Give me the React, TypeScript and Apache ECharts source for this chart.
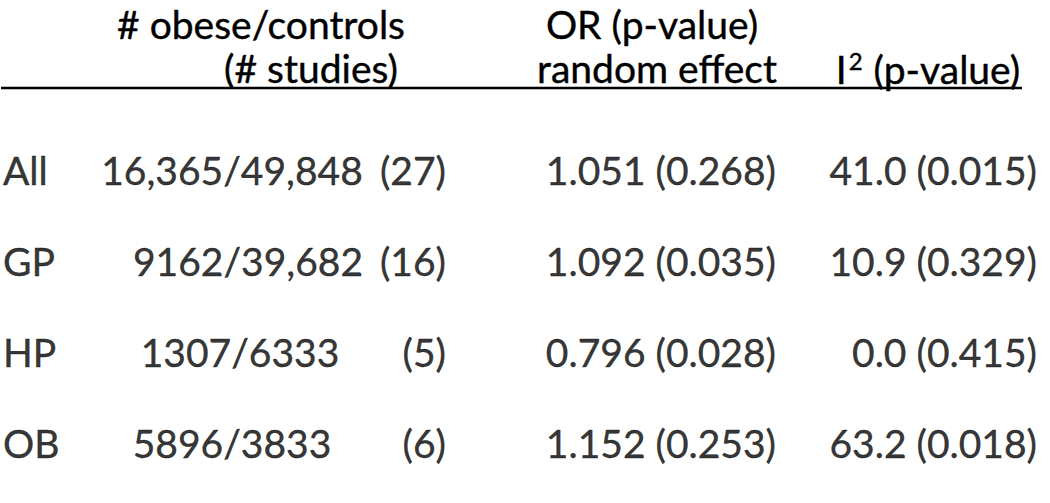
import React, { useEffect, useRef } from "react";
import * as echarts from "echarts";

// ---- data ----
const groups = ["All", "GP", "HP", "OB"];
const obese = [16365, 9162, 1307, 5896];
const controls = [49848, 39682, 6333, 3833];
const studies = [27, 16, 5, 6];
const orValue = [1.051, 1.092, 0.796, 1.152];
const orP = [0.268, 0.035, 0.028, 0.253];
const i2Value = [41.0, 10.9, 0.0, 63.2];
const i2P = [0.015, 0.329, 0.415, 0.018];
const headerLine1 = ["# obese/controls", "OR (p-value)"];
const headerLine2 = ["(# studies)", "random effect"];
const i2Header = ["I", "2", " (p-value)"];

// ---- layout ----
const FONT = "Lato";
const FS = 39;
const labelX = 3;
const countCenterX = [232, 248, 240, 232];
const studiesRightX = 446;
const orRightX = 776;
const i2RightX = 1037;

const fmtCount = (n: number) => (n >= 10000 ? n.toLocaleString("en-US") : String(n));

export default function App() {
  const ref = useRef<HTMLDivElement>(null);
  useEffect(() => {
    if (!ref.current) return;
    const chart = echarts.init(ref.current, undefined, { renderer: "svg" });
    const col = (
      name: string,
      xs: number[],
      align: "left" | "right" | "center",
      fmt: (i: number) => string
    ) => ({
      type: "scatter",
      name,
      symbolSize: 0,
      silent: true,
      data: groups.map((g, i) => [xs[i], g]),
      label: {
        show: true,
        position: "inside",
        align,
        verticalAlign: "middle",
        color: "#000",
        fontFamily: FONT,
        fontSize: FS,
        textBorderColor: "#000",
        textBorderWidth: 0.4,
        formatter: (p: any) => fmt(p.dataIndex),
      },
      emphasis: { disabled: true },
    });
    const same = (x: number) => groups.map(() => x);
    const txt = { fontFamily: FONT, fontSize: FS, fill: "#000", stroke: "#000", lineWidth: 0.4 };
    const hdr = (text: string, x: number, y: number) => ({
      type: "text",
      x,
      y,
      silent: true,
      style: { text, ...txt, align: "center", verticalAlign: "middle" },
    });
    chart.setOption({
      animation: false,
      grid: { left: 0, right: 0, top: 124, bottom: 15 },
      xAxis: { type: "value", min: 0, max: 1050, show: false },
      yAxis: { type: "category", data: groups, inverse: true, show: false },
      series: [
        col("label", same(labelX), "left", (i) => groups[i]),
        col("count", countCenterX, "center", (i) => `${fmtCount(obese[i])}/${fmtCount(controls[i])}`),
        col("studies", same(studiesRightX), "right", (i) => `(${studies[i]})`),
        col("or", same(orRightX), "right", (i) => `${orValue[i].toFixed(3)} (${orP[i].toFixed(3)})`),
        col("i2", same(i2RightX), "right", (i) => `${i2Value[i].toFixed(1)} (${i2P[i].toFixed(3)})`),
      ],
      graphic: [
        hdr(headerLine1[0], 261, 24),
        hdr(headerLine1[1], 652, 24),
        hdr(headerLine2[0], 311, 68),
        hdr(headerLine2[1], 657, 68),
        {
          type: "text",
          x: 928,
          y: 68,
          silent: true,
          style: {
            text: `{m|${i2Header[0]}}{s|${i2Header[1]}}{m|${i2Header[2]}}`,
            ...txt,
            align: "center",
            verticalAlign: "middle",
            rich: {
              m: { fontFamily: FONT, fontSize: FS, lineHeight: 40, verticalAlign: "bottom" },
              s: { fontFamily: FONT, fontSize: 24, lineHeight: 40, verticalAlign: "top", padding: [0, 1, 0, 2] },
            },
          },
        },
        { type: "line", silent: true, shape: { x1: 1, y1: 88, x2: 1022, y2: 88 }, style: { stroke: "#000", lineWidth: 2.5 } },
      ],
    });
    return () => chart.dispose();
  }, []);
  return (
    <div
      ref={ref}
      style={{ position: "fixed", left: 0, top: 0, width: 1050, height: 503, background: "#fff" }}
    />
  );
}
